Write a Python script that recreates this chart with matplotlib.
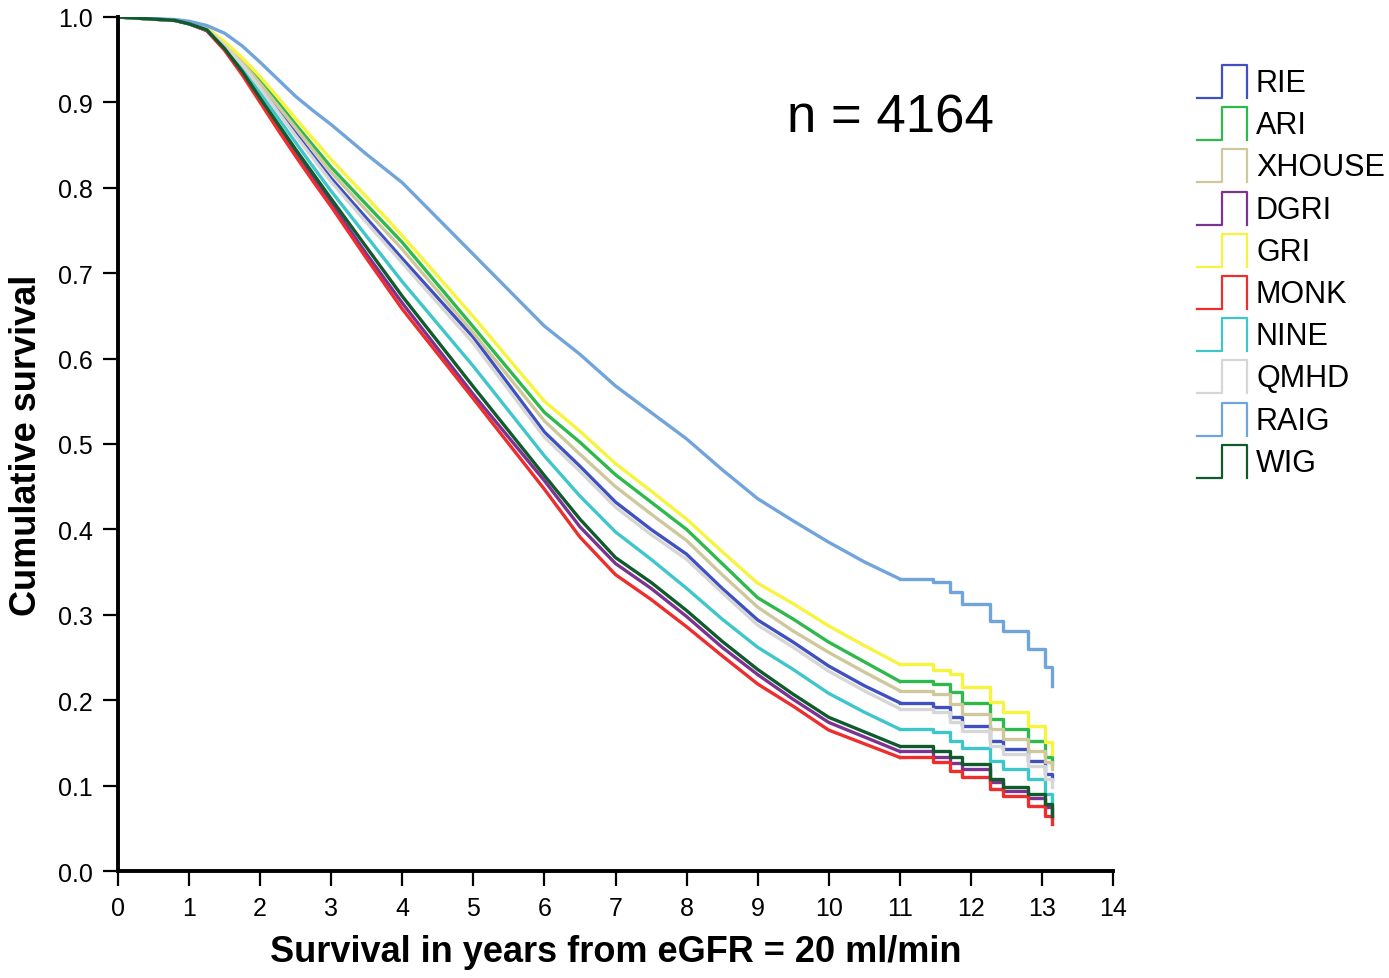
import matplotlib
matplotlib.use("Agg")
import matplotlib.pyplot as plt

plt.rcParams['font.family'] = ['Liberation Sans', 'DejaVu Sans']

# groups in legend order
groups = ['RIE', 'ARI', 'XHOUSE', 'DGRI', 'GRI', 'MONK', 'NINE', 'QMHD', 'RAIG', 'WIG']
colours = ['#3f51c0', '#2fb84c', '#cfc89c', '#7d3391', '#f6f43f',
           '#ee2d2d', '#3ec6cb', '#d6d6d6', '#70a4da', '#0f5b2c']

# smooth part of the curves, years from eGFR = 20
years = [0, 0.8, 1.0, 1.25, 1.5, 1.75, 2.0, 2.25, 2.5, 2.75, 3.0, 3.5, 4.0,
         5.0, 6.0, 6.5, 7.0, 7.5, 8.0, 8.5, 9.0, 9.5, 10.0, 10.5]
# late part where the Kaplan-Meier steps are visible
tail_years = [11.0, 11.47, 11.7, 11.88, 12.27, 12.45, 12.8, 13.04, 13.14]

rie = [1.0, 0.996, 0.993, 0.986, 0.967, 0.945, 0.918, 0.891, 0.864, 0.837, 0.811, 0.764, 0.717,
       0.625, 0.514, 0.474, 0.432, 0.400, 0.371, 0.331, 0.294, 0.268, 0.240, 0.217]
ari = [1.0, 0.996, 0.993, 0.987, 0.969, 0.949, 0.925, 0.900, 0.874, 0.849, 0.824, 0.780, 0.736,
       0.637, 0.537, 0.502, 0.464, 0.432, 0.400, 0.360, 0.320, 0.295, 0.268, 0.245]
xhouse = [1.0, 0.996, 0.993, 0.986, 0.968, 0.947, 0.922, 0.896, 0.870, 0.844, 0.818, 0.773, 0.728,
          0.630, 0.527, 0.488, 0.450, 0.418, 0.387, 0.347, 0.309, 0.281, 0.256, 0.233]
dgri = [1.0, 0.996, 0.992, 0.984, 0.962, 0.934, 0.903, 0.872, 0.841, 0.811, 0.782, 0.722, 0.665,
        0.558, 0.457, 0.403, 0.360, 0.331, 0.298, 0.262, 0.230, 0.201, 0.174, 0.157]
gri = [1.0, 0.996, 0.993, 0.987, 0.971, 0.952, 0.930, 0.906, 0.881, 0.857, 0.833, 0.789, 0.744,
       0.649, 0.550, 0.515, 0.477, 0.445, 0.412, 0.374, 0.337, 0.313, 0.287, 0.264]
monk = [1.0, 0.996, 0.992, 0.984, 0.961, 0.932, 0.900, 0.868, 0.837, 0.807, 0.778, 0.717, 0.658,
        0.553, 0.447, 0.391, 0.347, 0.318, 0.286, 0.252, 0.219, 0.193, 0.165, 0.149]
nine = [1.0, 0.996, 0.992, 0.985, 0.965, 0.940, 0.911, 0.882, 0.853, 0.824, 0.796, 0.743, 0.690,
        0.591, 0.486, 0.439, 0.397, 0.365, 0.331, 0.295, 0.262, 0.236, 0.208, 0.186]
qmhd = [1.0, 0.996, 0.993, 0.986, 0.967, 0.944, 0.917, 0.889, 0.861, 0.834, 0.807, 0.759, 0.712,
        0.618, 0.508, 0.468, 0.426, 0.394, 0.365, 0.326, 0.288, 0.262, 0.234, 0.211]
raig = [1.0, 0.997, 0.995, 0.990, 0.981, 0.966, 0.947, 0.927, 0.907, 0.890, 0.874, 0.839, 0.806,
        0.722, 0.638, 0.605, 0.568, 0.537, 0.506, 0.470, 0.436, 0.410, 0.385, 0.362]
wig = [1.0, 0.996, 0.992, 0.985, 0.963, 0.936, 0.905, 0.875, 0.845, 0.816, 0.787, 0.730, 0.673,
       0.567, 0.463, 0.412, 0.367, 0.338, 0.305, 0.269, 0.236, 0.207, 0.180, 0.163]

rie_tail = [0.197, 0.192, 0.180, 0.170, 0.152, 0.143, 0.129, 0.114, 0.108]
ari_tail = [0.222, 0.219, 0.210, 0.197, 0.178, 0.166, 0.152, 0.133, 0.125]
xhouse_tail = [0.211, 0.207, 0.196, 0.184, 0.166, 0.155, 0.141, 0.128, 0.119]
dgri_tail = [0.140, 0.134, 0.127, 0.119, 0.104, 0.094, 0.086, 0.075, 0.062]
gri_tail = [0.242, 0.235, 0.231, 0.215, 0.198, 0.186, 0.170, 0.151, 0.137]
monk_tail = [0.133, 0.128, 0.117, 0.110, 0.096, 0.088, 0.076, 0.064, 0.055]
nine_tail = [0.166, 0.163, 0.152, 0.144, 0.129, 0.119, 0.108, 0.090, 0.078]
qmhd_tail = [0.190, 0.186, 0.174, 0.164, 0.146, 0.137, 0.123, 0.108, 0.098]
raig_tail = [0.342, 0.338, 0.327, 0.313, 0.293, 0.281, 0.260, 0.239, 0.217]
wig_tail = [0.146, 0.141, 0.133, 0.125, 0.108, 0.098, 0.090, 0.078, 0.064]

heads = [rie, ari, xhouse, dgri, gri, monk, nine, qmhd, raig, wig]
tails = [rie_tail, ari_tail, xhouse_tail, dgri_tail, gri_tail,
         monk_tail, nine_tail, qmhd_tail, raig_tail, wig_tail]

W, H = 1389, 979
fig = plt.figure(figsize=(W / 100, H / 100), dpi=100)
ax = fig.add_axes([118 / W, 1 - 872 / H, (1113 - 118) / W, (872 - 18) / H])

for head, tail, c in zip(heads, tails, colours):
    ax.plot(years + [tail_years[0]], head + [tail[0]], color=c, lw=2.4,
            solid_joinstyle='round')
    ax.step(tail_years, tail, where='post', color=c, lw=2.4)

ax.set_xlim(0, 14)
ax.set_ylim(0, 1.0)
ax.set_xticks(range(0, 15))
ax.set_yticks([i / 10 for i in range(11)])
ax.set_yticklabels(['%.1f' % (i / 10) for i in range(11)])
for s in ['top', 'right']:
    ax.spines[s].set_visible(False)
for s in ['left', 'bottom']:
    ax.spines[s].set_linewidth(2.8)
ax.tick_params(direction='out', length=11, width=1.6, labelsize=18, pad=7)
ax.set_xlabel('Survival in years from eGFR = 20 ml/min', fontsize=26,
              fontweight='bold', labelpad=10)
ax.set_ylabel('Cumulative survival', fontsize=26, fontweight='bold', labelpad=10)

ax.text(9.41, 0.882, 'n = 4164', fontsize=38, ha='left', va='center')

# legend drawn by hand in pixel space, step-shaped keys like SPSS
lg = fig.add_axes([0, 0, 1, 1])
lg.set_xlim(0, W)
lg.set_ylim(H, 0)
lg.axis('off')
for i, (name, c) in enumerate(zip(groups, colours)):
    yc = 84 + 42.2 * i
    lg.plot([1197, 1222, 1222, 1247, 1247], [yc + 15, yc + 15, yc - 18, yc - 18, yc + 15],
            color=c, lw=1.6)
    lg.text(1256, yc, name, fontsize=22, ha='left', va='center')

fig.savefig('out.png', dpi=100)
